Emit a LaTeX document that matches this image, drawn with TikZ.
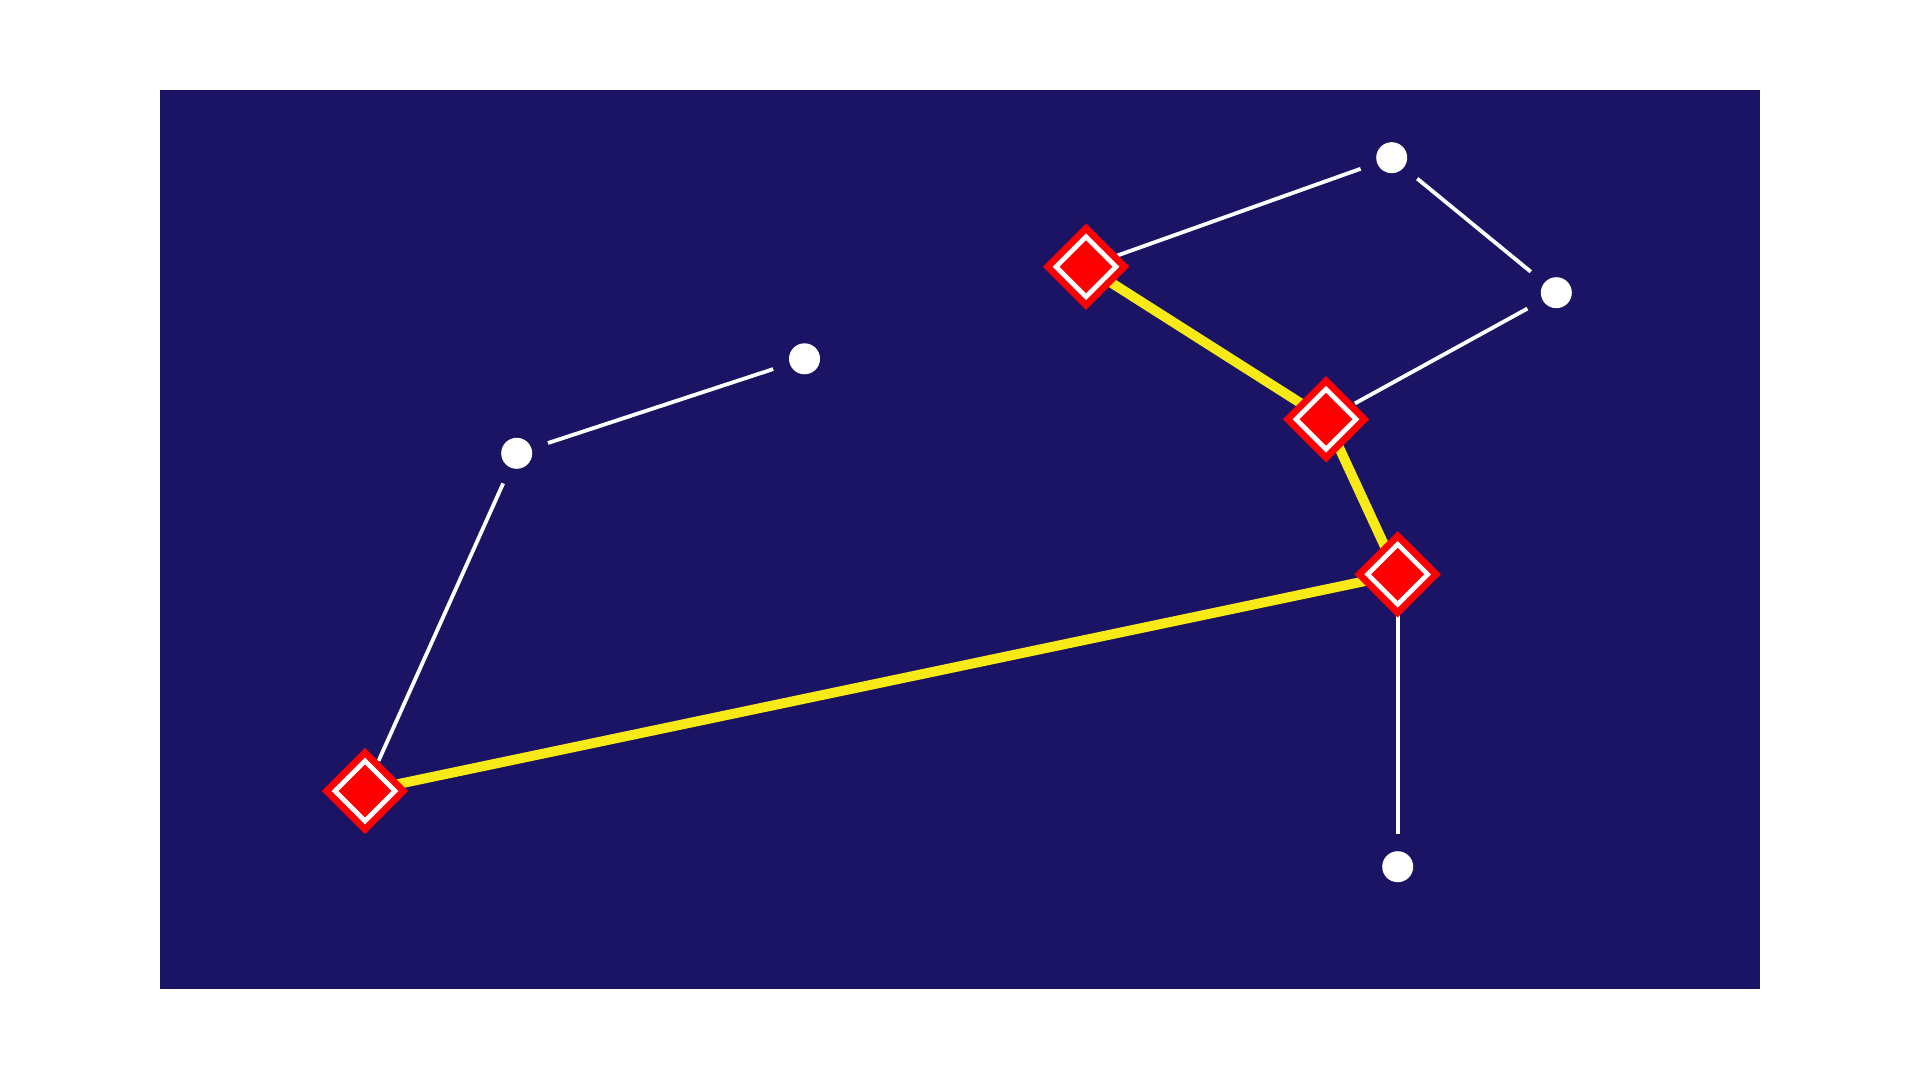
\documentclass[tikz,border=0pt]{standalone}
\usetikzlibrary{shapes.geometric}
\definecolor{skyblue}{RGB}{27,20,100}
\definecolor{pathyellow}{RGB}{248,234,22}
\pgfdeclarelayer{bg}
\pgfdeclarelayer{lines}
\pgfsetlayers{bg,lines,main}
\begin{document}
\begin{tikzpicture}[line width=0.35mm,
  star/.style={circle,fill=white,minimum size=3.1mm,inner sep=0pt},
  stop/.style={diamond,fill=red,minimum size=8.7mm,inner sep=0pt,
    path picture={\draw[white,line width=0.47mm] (path picture bounding box.center)
      +(0,3mm) -- +(3mm,0) -- +(0,-3mm) -- +(-3mm,0) -- cycle;}},
  wline/.style={white,line width=0.38mm,shorten <=3.3mm,shorten >=3.3mm},
  yline/.style={pathyellow,line width=0.98mm}]
  \useasboundingbox (0,0) rectangle (19.2,-10.8);
  \begin{pgfonlayer}{bg}
    \fill[skyblue] (1.60,-0.90) rectangle (17.60,-9.89);
  \end{pgfonlayer}

  % 星点
  \node[star] (d1) at (5.167,-4.533) {};
  \node[star] (d2) at (8.045,-3.588) {};
  \node[star] (d3) at (13.917,-1.577) {};
  \node[star] (d4) at (15.563,-2.927) {};
  \node[star] (d5) at (13.977,-8.667) {};

  % 菱形站点
  \node[stop] (q1) at (10.86,-2.667) {};
  \node[stop] (q2) at (13.26,-4.193) {};
  \node[stop] (q3) at (13.977,-5.743) {};
  \node[stop] (q4) at (3.65,-7.91) {};

  \begin{pgfonlayer}{lines}
    % 白色连线
    \draw[wline] (q4.center) -- (d1.center);
    \draw[wline] (d1.center) -- (d2.center);
    \draw[wline] (q1.center) -- (d3.center);
    \draw[wline] (d3.center) -- (d4.center);
    \draw[wline] (d4.center) -- (q2.center);
    \draw[wline] (q3.center) -- (d5.center);
    % 黄色路径
    \draw[yline] (q1.center) -- (q2.center) -- (q3.center) -- (q4.center);
  \end{pgfonlayer}
\end{tikzpicture}
\end{document}
